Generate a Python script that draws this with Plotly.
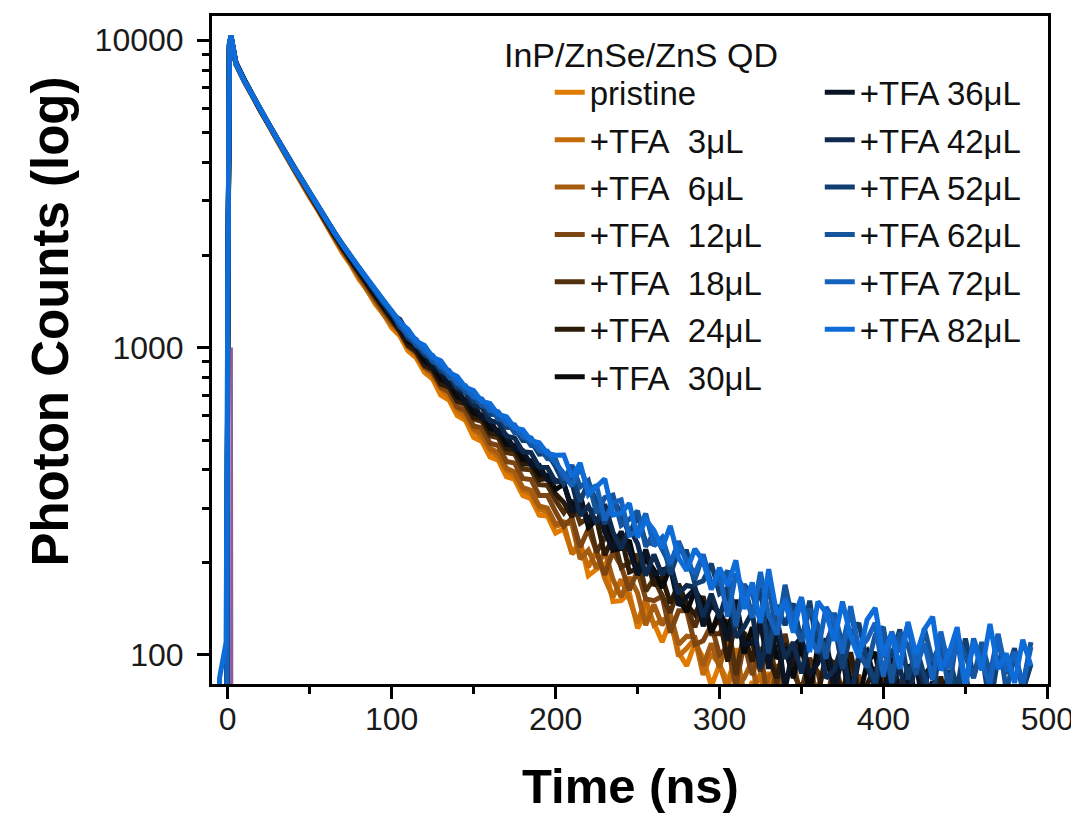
import plotly.graph_objects as go

# ---------------- data ----------------
time_ns = [-6, -5, -3, -1, 0, 1, 2] + list(range(5, 491, 5))

series_names = ["pristine", "+TFA\u00a0 3μL", "+TFA\u00a0 6μL", "+TFA\u00a0 12μL", "+TFA\u00a0 18μL",
                "+TFA\u00a0 24μL", "+TFA\u00a0 30μL", "+TFA 36μL", "+TFA 42μL", "+TFA 52μL",
                "+TFA 62μL", "+TFA 72μL", "+TFA 82μL"]

counts_pristine = [5, 5, 5, 5, 1100, 9400, 10100,
    8330, 7360, 6560, 5840, 5290, 4720, 4240, 3800, 3450, 3080, 2800, 2500, 2270, 2030, 1860, 1670, 1540, 1385, 1285, 1160,
    1090, 975, 925, 830, 790, 700, 675, 600, 580, 510, 495, 440, 430, 380, 372, 330, 322, 285, 283, 249,
    257, 214, 234, 181, 190, 198, 149, 150, 159, 122, 138, 127, 110, 129, 102, 92, 109, 98, 79, 93,
    82, 98, 68, 82, 60, 88, 62, 68, 53, 68, 46, 67, 61, 50, 67, 53, 45, 61, 66, 46,
    56, 42, 61, 49, 58, 64, 44, 50, 60, 40, 55, 45, 63, 45, 51, 41, 57, 47]

counts_3uL = [5, 5, 5, 5, 1200, 9500, 10150,
    8360, 7340, 6570, 5860, 5270, 4750, 4230, 3830, 3440, 3110, 2790, 2530, 2260, 2060, 1850, 1700, 1535, 1410, 1280, 1185,
    1110, 1005, 945, 858, 805, 735, 690, 625, 590, 540, 508, 462, 440, 398, 382, 343, 333, 298, 292, 262,
    267, 213, 227, 193, 218, 177, 154, 176, 152, 127, 152, 125, 130, 132, 99, 105, 113, 86, 101, 93,
    77, 105, 75, 75, 87, 62, 85, 53, 72, 76, 57, 63, 76, 52, 66, 47, 65, 68, 54, 49,
    69, 49, 53, 64, 43, 57, 49, 65, 43, 52, 58, 44, 56, 40, 60, 48, 58, 41]

counts_6uL = [5, 5, 5, 5, 1150, 9450, 10200,
    8340, 7380, 6550, 5870, 5300, 4740, 4250, 3830, 3460, 3110, 2810, 2540, 2280, 2070, 1870, 1710, 1555, 1420, 1300, 1195,
    1150, 1040, 980, 880, 835, 748, 715, 640, 612, 546, 525, 470, 455, 405, 394, 350, 343, 305, 300, 266,
    271, 266, 205, 219, 191, 218, 176, 154, 179, 159, 125, 146, 125, 136, 108, 115, 114, 92, 109, 91,
    113, 78, 84, 96, 62, 85, 90, 67, 75, 59, 76, 80, 57, 61, 74, 49, 68, 62, 53, 73,
    53, 61, 47, 65, 54, 67, 46, 62, 50, 66, 46, 56, 63, 42, 57, 49, 60, 46]

counts_12uL = [5, 5, 5, 5, 1250, 9600, 10250,
    8400, 7400, 6590, 5880, 5300, 4760, 4250, 3840, 3470, 3120, 2820, 2545, 2295, 2080, 1890, 1725, 1575, 1440, 1315, 1210,
    1125, 1010, 960, 862, 828, 742, 718, 640, 625, 556, 548, 488, 480, 426, 421, 375, 372, 330, 330, 292,
    262, 279, 224, 257, 218, 182, 217, 194, 162, 188, 152, 150, 155, 118, 139, 139, 108, 111, 125, 100,
    106, 79, 109, 86, 106, 65, 93, 81, 95, 71, 98, 67, 72, 85, 60, 78, 86, 65, 55, 80,
    66, 82, 56, 71, 57, 49, 73, 64, 50, 73, 55, 66, 44, 64, 57, 67, 49, 59]

counts_18uL = [5, 5, 5, 5, 1200, 9550, 10200,
    8430, 7420, 6600, 5890, 5320, 4770, 4270, 3860, 3490, 3140, 2840, 2565, 2315, 2100, 1910, 1750, 1600, 1460, 1340, 1230,
    1145, 1030, 980, 882, 848, 765, 742, 668, 650, 585, 575, 516, 508, 455, 450, 402, 400, 358, 356, 318,
    290, 319, 268, 279, 216, 240, 244, 193, 199, 212, 161, 177, 155, 137, 164, 143, 123, 146, 117, 117,
    130, 86, 118, 109, 88, 116, 80, 117, 87, 77, 97, 88, 67, 96, 75, 98, 71, 64, 82, 87,
    57, 83, 76, 60, 85, 66, 76, 53, 79, 67, 57, 74, 59, 78, 52, 66, 53, 73]

counts_24uL = [5, 5, 5, 5, 1300, 9650, 10300,
    8440, 7440, 6610, 5900, 5330, 4775, 4275, 3865, 3500, 3150, 2850, 2570, 2320, 2110, 1920, 1760, 1610, 1470, 1350, 1240,
    1130, 1015, 972, 875, 846, 760, 745, 670, 658, 592, 588, 526, 522, 468, 466, 418, 417, 372, 374, 334,
    313, 281, 322, 272, 277, 211, 241, 244, 186, 191, 216, 168, 179, 147, 170, 146, 135, 155, 119, 133,
    95, 132, 116, 95, 134, 97, 84, 109, 93, 110, 82, 73, 101, 92, 72, 102, 75, 80, 91, 61,
    85, 73, 91, 65, 78, 59, 85, 63, 78, 55, 79, 66, 56, 80, 62, 70, 55, 73]

counts_30uL = [5, 5, 5, 5, 1250, 9600, 10250,
    8450, 7460, 6620, 5910, 5330, 4790, 4280, 3870, 3510, 3165, 2860, 2580, 2335, 2120, 1930, 1770, 1620, 1480, 1360, 1250,
    1165, 1048, 1000, 902, 870, 788, 765, 692, 676, 612, 602, 545, 538, 484, 480, 432, 428, 386, 384, 345,
    359, 302, 332, 260, 275, 289, 219, 222, 236, 182, 206, 189, 165, 194, 152, 138, 162, 147, 118, 139,
    121, 146, 101, 123, 91, 136, 97, 106, 84, 110, 73, 107, 98, 79, 107, 82, 71, 94, 102, 71,
    85, 65, 93, 73, 86, 93, 61, 68, 83, 54, 73, 59, 83, 59, 66, 53, 73, 60]

counts_36uL = [5, 5, 5, 5, 1300, 9700, 10300,
    8470, 7450, 6640, 5920, 5350, 4800, 4300, 3890, 3520, 3180, 2875, 2595, 2345, 2135, 1945, 1785, 1635, 1495, 1375, 1265,
    1160, 1098, 990, 950, 860, 832, 752, 735, 662, 652, 590, 580, 524, 518, 466, 462, 415, 414, 372, 370,
    363, 292, 313, 269, 307, 251, 220, 252, 219, 183, 220, 182, 189, 192, 145, 154, 164, 124, 146, 136,
    111, 151, 108, 109, 127, 90, 124, 77, 106, 114, 86, 94, 113, 77, 98, 69, 97, 103, 81, 73,
    104, 73, 79, 94, 63, 82, 68, 89, 59, 69, 77, 57, 72, 51, 78, 62, 74, 52]

counts_42uL = [5, 5, 5, 5, 1350, 9650, 10300,
    8460, 7470, 6630, 5930, 5340, 4810, 4290, 3900, 3530, 3190, 2890, 2610, 2360, 2150, 1960, 1800, 1650, 1510, 1390, 1280,
    1235, 1110, 1060, 958, 922, 836, 810, 735, 715, 650, 638, 578, 570, 515, 508, 458, 455, 408, 407, 365,
    368, 364, 284, 305, 268, 309, 251, 221, 259, 230, 181, 212, 182, 199, 158, 168, 166, 133, 158, 132,
    163, 114, 123, 138, 90, 123, 131, 97, 110, 87, 114, 120, 84, 89, 109, 72, 100, 92, 78, 109,
    80, 91, 70, 96, 79, 96, 66, 85, 67, 88, 61, 73, 81, 54, 73, 63, 78, 58]

counts_52uL = [5, 5, 5, 5, 1300, 9700, 10350,
    8390, 7390, 6590, 5890, 5330, 4780, 4280, 3870, 3520, 3170, 2880, 2600, 2360, 2150, 1960, 1810, 1660, 1520, 1400, 1300,
    1185, 1072, 1032, 948, 918, 842, 820, 745, 735, 672, 665, 606, 604, 550, 548, 498, 497, 450, 452, 410,
    360, 388, 315, 365, 313, 266, 321, 289, 245, 286, 232, 230, 239, 183, 217, 217, 170, 174, 198, 158,
    165, 123, 170, 133, 166, 101, 145, 125, 147, 110, 150, 101, 109, 127, 90, 117, 127, 95, 81, 119,
    98, 121, 83, 106, 85, 73, 110, 99, 77, 113, 85, 102, 67, 99, 87, 105, 76, 93]

counts_62uL = [5, 5, 5, 5, 1350, 9750, 10300,
    8400, 7395, 6595, 5895, 5335, 4790, 4290, 3880, 3530, 3180, 2890, 2610, 2370, 2160, 1970, 1820, 1670, 1530, 1410, 1310,
    1170, 1110, 1015, 985, 900, 878, 802, 780, 716, 705, 646, 638, 585, 580, 528, 525, 480, 476, 435, 432,
    372, 414, 352, 369, 289, 325, 331, 264, 276, 294, 225, 249, 220, 195, 234, 205, 176, 212, 170, 170,
    188, 124, 169, 158, 128, 168, 116, 169, 127, 111, 141, 125, 97, 137, 108, 140, 102, 91, 116, 123,
    81, 118, 107, 86, 122, 95, 110, 77, 116, 99, 84, 110, 86, 117, 76, 99, 79, 110]

counts_72uL = [5, 5, 5, 5, 1400, 9700, 10350,
    8410, 7410, 6610, 5910, 5345, 4800, 4300, 3895, 3545, 3195, 2895, 2615, 2375, 2165, 1975, 1825, 1675, 1535, 1415, 1315,
    1215, 1100, 1060, 972, 942, 864, 842, 765, 752, 690, 680, 624, 618, 565, 560, 512, 508, 462, 460, 421,
    389, 354, 409, 347, 355, 274, 313, 319, 245, 253, 288, 226, 241, 199, 231, 200, 184, 212, 165, 184,
    133, 184, 162, 132, 186, 134, 117, 153, 131, 154, 114, 102, 143, 129, 101, 144, 104, 112, 127, 85,
    119, 102, 126, 91, 109, 83, 119, 90, 111, 78, 113, 94, 80, 116, 88, 102, 80, 106]

counts_82uL = [5, 84, 96, 110, 1500, 9800, 10350,
    8380, 7390, 6590, 5880, 5330, 4780, 4280, 3870, 3510, 3170, 2880, 2610, 2370, 2155, 1970, 1820, 1680, 1545, 1425, 1320,
    1210, 1145, 1048, 1015, 930, 905, 830, 805, 742, 725, 668, 658, 606, 596, 548, 540, 498, 490, 452, 446,
    447, 379, 421, 332, 353, 374, 285, 289, 311, 241, 275, 254, 223, 263, 207, 188, 221, 202, 163, 192,
    168, 203, 141, 172, 127, 190, 135, 149, 118, 153, 102, 149, 137, 111, 149, 115, 98, 130, 142, 99,
    118, 90, 128, 100, 121, 133, 89, 101, 123, 80, 110, 89, 126, 90, 101, 81, 112, 92]

spike_time_ns = [1.9, 2.4, 2.9]
spike_counts = [5, 1000, 5]

series_counts = [counts_pristine, counts_3uL, counts_6uL, counts_12uL, counts_18uL, counts_24uL,
                 counts_30uL, counts_36uL, counts_42uL, counts_52uL, counts_62uL, counts_72uL, counts_82uL]

series_colors = ["#E07B00", "#C56C0A", "#A65C10", "#7C4512", "#52300E", "#2B1A08", "#0A0A0A",
                 "#0A1424", "#0E2A4E", "#123F72", "#15549A", "#1462BE", "#0E6CD8"]

x_ticks = [0, 100, 200, 300, 400, 500]
y_ticks = [100, 1000, 10000]
y_minor = [200, 300, 400, 500, 600, 700, 800, 900, 2000, 3000, 4000, 5000, 6000, 7000, 8000, 9000]

# ---------------- figure ----------------
FONT = "Arial, 'Liberation Sans', sans-serif"
fig = go.Figure()

for i, (name, ys, col) in enumerate(zip(series_names, series_counts, series_colors)):
    fig.add_trace(go.Scatter(
        x=time_ns, y=ys, mode="lines", name=name,
        line=dict(color=col, width=5),
        legend="legend" if i < 7 else "legend2",
        legendgroup=name,
    ))

fig.add_trace(go.Scatter(x=spike_time_ns, y=spike_counts, mode="lines",
                         line=dict(color="#8E5C9C", width=2.5), showlegend=False, hoverinfo="skip"))

axis_common = dict(showline=True, linecolor="black", linewidth=3, mirror=True,
                   ticks="outside", tickcolor="black", tickwidth=2.5, ticklen=12,
                   showgrid=False, zeroline=False,
                   tickfont=dict(family=FONT, size=32, color="#1a1a1a"))

fig.update_layout(
    width=1071, height=807,
    margin=dict(l=204, r=31, t=5, b=131),
    paper_bgcolor="white", plot_bgcolor="white",
    showlegend=True,
    xaxis=dict(range=[-9.6, 500.4], tickmode="array", tickvals=x_ticks,
               ticktext=[str(v) for v in x_ticks], ticklabelstandoff=-7,
               minor=dict(dtick=50, tick0=0, ticks="outside", ticklen=7, tickwidth=2.5, tickcolor="black"),
               **axis_common),
    yaxis=dict(type="log", range=[1.905, 4.079], tickmode="array", tickvals=y_ticks,
               ticktext=[str(v) for v in y_ticks], ticklabelstandoff=7,
               minor=dict(tickmode="array", tickvals=y_minor, ticks="outside", ticklen=7,
                          tickwidth=2.5, tickcolor="black"),
               **axis_common),
    legend=dict(x=0.404, y=0.9277, xanchor="left", yanchor="top", bgcolor="rgba(0,0,0,0)",
                font=dict(family=FONT, size=33, color="#111"), tracegroupgap=1.5),
    legend2=dict(x=0.727, y=0.9277, xanchor="left", yanchor="top", bgcolor="rgba(0,0,0,0)",
                 font=dict(family=FONT, size=33, color="#111"), tracegroupgap=1.5),
    annotations=[
        dict(text="<b>Photon Counts (log)</b>", textangle=-90, xref="paper", yref="paper",
             x=-0.1926, y=0.5425, xanchor="center", yanchor="middle", showarrow=False,
             font=dict(family=FONT, size=51, color="black")),
        dict(text="<b>Time (ns)</b>", xref="paper", yref="paper", x=0.5, y=-0.152,
             xanchor="center", yanchor="middle", showarrow=False,
             font=dict(family=FONT, size=49, color="black")),
        dict(text="InP/ZnSe/ZnS QD", xref="paper", yref="paper", x=0.347, y=0.942,
             xanchor="left", yanchor="middle", showarrow=False,
             font=dict(family=FONT, size=34, color="#111")),
    ],
)

fig.write_html("out.html")
